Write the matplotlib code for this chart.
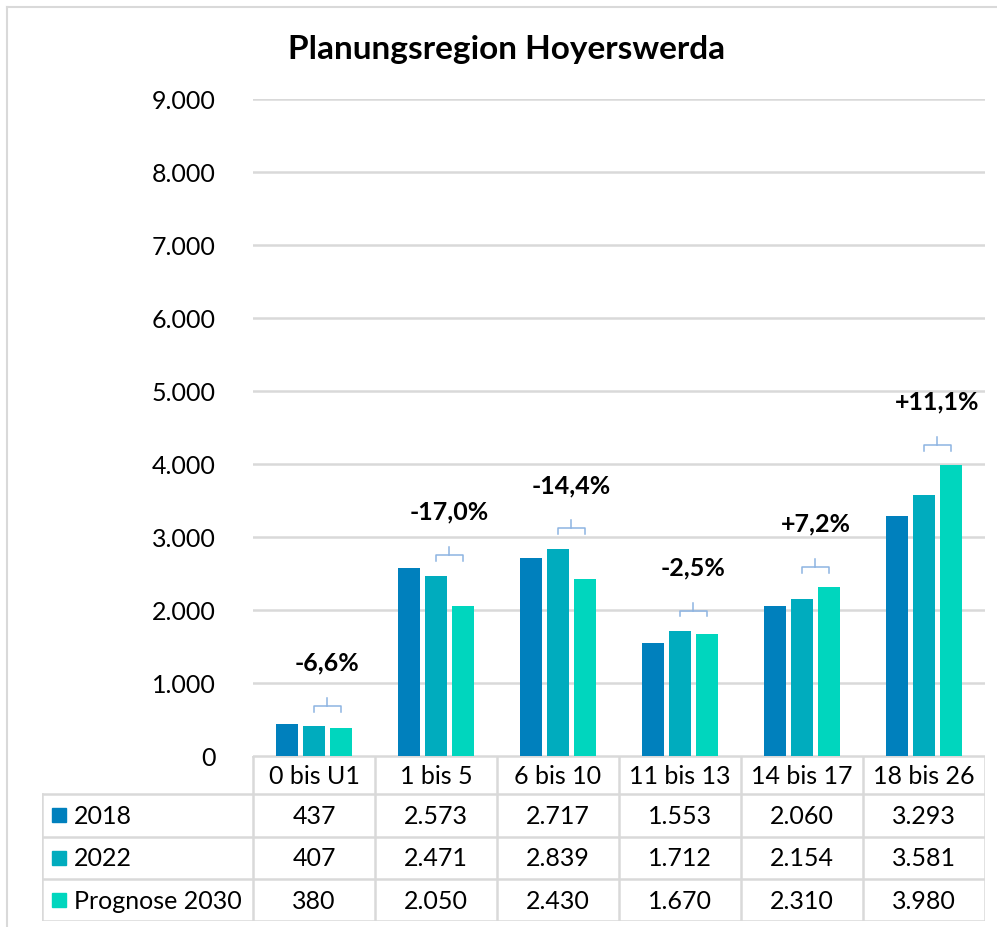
import matplotlib.pyplot as plt
from matplotlib.lines import Line2D
from matplotlib.patches import Rectangle
import numpy as np

plt.rcParams['font.family'] = ['Lato', 'DejaVu Sans']

kategorien = ["0 bis U1", "1 bis 5", "6 bis 10", "11 bis 13", "14 bis 17", "18 bis 26"]
serien = ["2018", "2022", "Prognose 2030"]
werte_2018 = [437, 2573, 2717, 1553, 2060, 3293]
werte_2022 = [407, 2471, 2839, 1712, 2154, 3581]
werte_2030 = [380, 2050, 2430, 1670, 2310, 3980]
aenderung = ["-6,6%", "-17,0%", "-14,4%", "-2,5%", "+7,2%", "+11,1%"]
titel = "Planungsregion Hoyerswerda"

farben = ["#0080BD", "#00ACBE", "#00D6BE"]
grau = "#D9D9D9"
fs = 18

W, H = 997, 928
fig = plt.figure(figsize=(W / 100, H / 100), dpi=100)

def px(x0, y0, x1, y1):
    return [x0 / W, 1 - y1 / H, (x1 - x0) / W, (y1 - y0) / H]

ax = fig.add_axes(px(253, 100, 985, 757))
ind = np.arange(len(kategorien))
breite = 0.175
schritt = 0.22
alle = [werte_2018, werte_2022, werte_2030]
for k, (werte, farbe) in enumerate(zip(alle, farben)):
    ax.bar(ind + (k - 1) * schritt, werte, breite, color=farbe, zorder=3)

ax.set_xlim(-0.5, len(kategorien) - 0.5)
ax.set_ylim(0, 9000)
ax.set_yticks(np.arange(0, 9001, 1000))
ax.set_yticklabels([f"{v:,}".replace(",", ".") for v in range(0, 9001, 1000)], fontsize=fs)
ax.tick_params(axis="y", length=0, pad=27)
ax.tick_params(axis="x", length=0, labelbottom=False)
ax.grid(axis="y", color=grau, linewidth=1.8, zorder=0)
for s in ax.spines.values():
    s.set_visible(False)

# Klammern mit Veraenderung 2022 -> 2030
for i, txt in enumerate(aenderung):
    x0 = i
    x1 = i + schritt
    y = max(werte_2022[i], werte_2030[i]) + 200
    h = 80
    ax.plot([x0, x0, x1, x1], [y, y + h, y + h, y], color="#8DB4E2", lw=1.1, zorder=4)
    xm = (x0 + x1) / 2
    ax.plot([xm, xm], [y + h, y + h + 110], color="#8DB4E2", lw=1.1, zorder=4)
    ax.text(xm, y + 680, txt, ha="center", va="center", fontsize=fs, fontweight="bold")

fig.text(507 / W, 1 - 50 / H, titel, ha="center", va="center", fontsize=24, fontweight="bold")

# Datentabelle
tab = fig.add_axes(px(42, 757, 985, 922))
links = -0.5 - 211 / 122
tab.set_xlim(links, len(kategorien) - 0.5)
tab.set_ylim(165, 0)
tab.axis("off")
zeilen = [0, 38, 80.7, 123.3, 165]
lw = 1.8
tab.add_line(Line2D([-0.5, len(kategorien) - 0.5], [0, 0], color=grau, lw=lw))
for y in zeilen[1:]:
    tab.add_line(Line2D([links, len(kategorien) - 0.5], [y, y], color=grau, lw=lw))
for j in range(len(kategorien) + 1):
    tab.add_line(Line2D([j - 0.5, j - 0.5], [0, 165], color=grau, lw=lw))
tab.add_line(Line2D([links, links], [38, 165], color=grau, lw=lw))
for j, kat in enumerate(kategorien):
    tab.text(j, 20, kat, ha="center", va="center", fontsize=fs)
for r, (name, werte, farbe) in enumerate(zip(serien, alle, farben)):
    yc = (zeilen[r + 1] + zeilen[r + 2]) / 2
    tab.add_patch(Rectangle((links + 10 / 122, yc - 7), 14 / 122, 14, color=farbe))
    tab.text(links + 32 / 122, yc, name, ha="left", va="center", fontsize=fs)
    for j, v in enumerate(werte):
        tab.text(j, yc, f"{v:,}".replace(",", "."), ha="center", va="center", fontsize=fs)

# Diagrammrahmen
fig.add_artist(Line2D([7 / W, 7 / W], [0, 1 - 8 / H], color=grau, lw=1.5))
fig.add_artist(Line2D([7 / W, 1], [1 - 8 / H, 1 - 8 / H], color=grau, lw=1.5))

plt.savefig("out.png", dpi=100)
